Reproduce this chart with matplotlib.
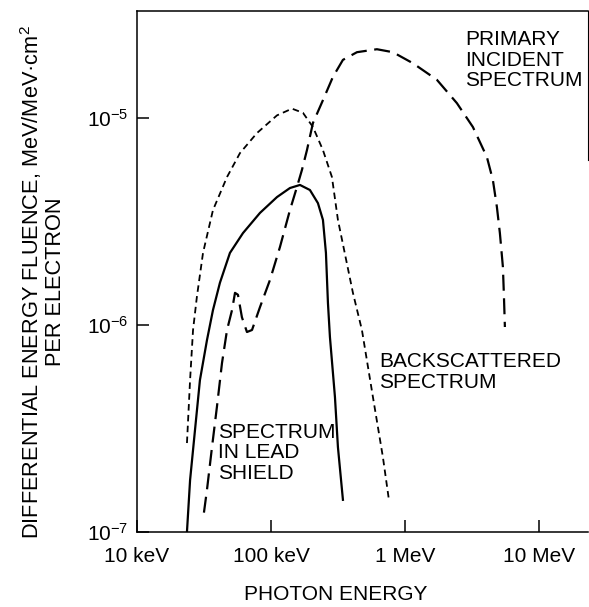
import matplotlib
matplotlib.use("Agg")
import matplotlib.pyplot as plt
from matplotlib.ticker import FixedLocator, FixedFormatter, NullLocator

plt.rcParams['font.family'] = ['Liberation Sans', 'DejaVu Sans']
plt.rcParams['mathtext.fontset'] = 'custom'
plt.rcParams['mathtext.rm'] = 'Liberation Sans'
plt.rcParams['mathtext.it'] = 'Liberation Sans'
plt.rcParams['mathtext.bf'] = 'Liberation Sans'

# photon energy in keV, fluence in MeV/MeV.cm^2 per electron
lead_e = [23.6, 24.9, 27.1, 29.5, 33.3, 36.9, 41.6, 49.4, 61.8, 82.8, 110.9, 138.6, 164.6,
          195.4, 224.2, 244.4, 257.3, 266.3, 275.6, 300.4, 316.2, 344.6]
lead_f = [1.0e-7, 1.78e-7, 3.11e-7, 5.42e-7, 8.46e-7, 1.18e-6, 1.60e-6, 2.23e-6, 2.78e-6,
          3.48e-6, 4.15e-6, 4.59e-6, 4.75e-6, 4.49e-6, 3.88e-6, 3.22e-6, 2.23e-6, 1.28e-6,
          8.75e-7, 4.49e-7, 2.57e-7, 1.43e-7]

back_e = [23.6, 24.9, 26.2, 28.0, 31.1, 36.9, 47.0, 58.7, 78.6, 110.9, 143.5, 173.3, 205.8,
          244.4, 285.2, 316.2, 409.2, 477.6, 577, 685, 759.6]
back_f = [2.69e-7, 5.42e-7, 9.46e-7, 1.37e-6, 2.23e-6, 3.59e-6, 5.19e-6, 6.77e-6, 8.46e-6,
          1.03e-5, 1.11e-5, 1.06e-5, 9.05e-6, 7.00e-6, 5.19e-6, 3.22e-6, 1.43e-6, 9.46e-7,
          4.49e-7, 2.30e-7, 1.43e-7]

prim_e = [31.6, 33.3, 36.3, 39.5, 43.1, 47.0, 51.2, 53.9, 56.7, 60.7, 66.2, 72.2, 82.8, 98.3,
          116.7, 138.6, 156.3, 170.3, 185.7, 205.8, 244.4, 290.1, 344.6, 438.5, 618, 813.6,
          1147, 1733, 2444, 3217, 4092, 4536, 4860, 5117, 5388, 5482, 5577]
prim_f = [1.24e-7, 1.60e-7, 2.57e-7, 4.02e-7, 6.55e-7, 9.46e-7, 1.18e-6, 1.43e-6, 1.40e-6,
          1.09e-6, 9.25e-7, 9.46e-7, 1.22e-6, 1.65e-6, 2.38e-6, 3.59e-6, 4.64e-6, 5.61e-6,
          7.00e-6, 9.46e-6, 1.22e-5, 1.58e-5, 1.91e-5, 2.08e-5, 2.15e-5, 2.08e-5, 1.84e-5,
          1.53e-5, 1.18e-5, 9.05e-6, 6.48e-6, 5.02e-6, 3.72e-6, 2.78e-6, 1.91e-6, 1.40e-6,
          9.78e-7]

x_ticks = [10, 100, 1000, 10000]
x_labels = ["10 keV", "100 keV", "1 MeV", "10 MeV"]
y_ticks = [1e-7, 1e-6, 1e-5]
y_labels = ["10$^{-7}$", "10$^{-6}$", "10$^{-5}$"]

fig = plt.figure(figsize=(5.89, 6.07), dpi=100)
ax = fig.add_axes([0.2326, 0.1236, 0.7654, 0.8583])

ax.plot(lead_e, lead_f, color="black", lw=1.6)
ax.plot(back_e, back_f, color="black", lw=1.3, linestyle=(0, (3.6, 2.4)))
ax.plot(prim_e, prim_f, color="black", lw=1.6, linestyle=(0, (7.2, 3.4)))

ax.set_xscale("log")
ax.set_yscale("log")
ax.set_xlim(10, 23200)
ax.set_ylim(1e-7, 3.29e-5)

ax.xaxis.set_major_locator(FixedLocator(x_ticks))
ax.xaxis.set_major_formatter(FixedFormatter(x_labels))
ax.xaxis.set_minor_locator(NullLocator())
ax.yaxis.set_major_locator(FixedLocator(y_ticks))
ax.yaxis.set_major_formatter(FixedFormatter(y_labels))
ax.yaxis.set_minor_locator(NullLocator())

ax.tick_params(axis="both", direction="in", length=8.5, width=1.1, labelsize=15)
ax.tick_params(axis="x", pad=11)
ax.tick_params(axis="y", pad=6)

for s in ax.spines.values():
    s.set_linewidth(1.1)
ax.spines["right"].set_bounds(6.3e-6, 3.29e-5)
ax.spines["right"].set_linewidth(0.8)

txt = dict(fontsize=15, color="black", linespacing=1.08, ha="left", va="center")
fig.text(465 / 589, 1 - 60 / 607, "PRIMARY\nINCIDENT\nSPECTRUM", **txt)
fig.text(379 / 589, 1 - 372 / 607, "BACKSCATTERED\nSPECTRUM", **txt)
fig.text(218 / 589, 1 - 453 / 607, "SPECTRUM\nIN LEAD\nSHIELD", **txt)

fig.text(42 / 589, 1 - 282 / 607,
         "DIFFERENTIAL ENERGY FLUENCE, MeV/MeV\u00b7cm$^{2}$\nPER ELECTRON",
         rotation=90, ha="center", va="center", multialignment="center",
         fontsize=15.7, linespacing=1.05)
fig.text(336 / 589, 1 - 595 / 607, "PHOTON ENERGY", ha="center", va="center", fontsize=15)

fig.savefig("out.png", dpi=100)
